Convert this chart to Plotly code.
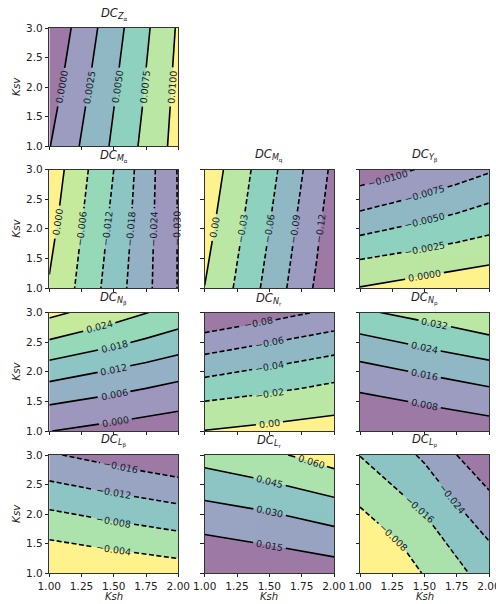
import math
import plotly.graph_objects as go

# Sensitivity grids: rows follow KSV, columns follow KSH
KSH = [1.00, 1.25, 1.50, 1.75, 2.00]
KSV = [1.0, 1.5, 2.0, 2.5, 3.0]
X_TICKS = [1.00, 1.25, 1.50, 1.75, 2.00]
Y_TICKS = [1.0, 1.5, 2.0, 2.5, 3.0]

DC_Z_ALPHA = [
    [-0.0001, 0.0027, 0.0054, 0.0082, 0.0109],
    [-0.0006, 0.0023, 0.0051, 0.0079, 0.0108],
    [-0.0011, 0.00185, 0.0047, 0.00765, 0.0106],
    [-0.0016, 0.0014, 0.0044, 0.0074, 0.0105],
    [-0.0021, 0.0010, 0.0040, 0.0071, 0.0103],
]
DC_M_ALPHA = [
    [-0.0005, -0.0075, -0.0150, -0.0225, -0.0303],
    [0.0006, -0.0068, -0.0143, -0.0223, -0.0303],
    [0.0017, -0.0060, -0.0135, -0.0220, -0.0303],
    [0.0028, -0.0052, -0.0128, -0.0217, -0.0303],
    [0.0038, -0.0044, -0.0120, -0.0214, -0.0304],
]
DC_M_Q = [
    [-0.0005, -0.034, -0.070, -0.107, -0.145],
    [0.005, -0.029, -0.065, -0.102, -0.140],
    [0.010, -0.024, -0.060, -0.098, -0.136],
    [0.015, -0.019, -0.055, -0.093, -0.131],
    [0.020, -0.0145, -0.050, -0.088, -0.127],
]
DC_Y_BETA = [
    [0.0001, 0.0006, 0.0011, 0.0016, 0.0021],
    [-0.0026, -0.0021, -0.0016, -0.0011, -0.0006],
    [-0.0057, -0.0050, -0.0043, -0.0037, -0.0030],
    [-0.0087, -0.0079, -0.0070, -0.0062, -0.0053],
    [-0.0116, -0.0107, -0.0097, -0.0088, -0.0078],
]
DC_N_BETA = [
    [0.0001, -0.0010, -0.0019, -0.0029, -0.0038],
    [0.0068, 0.0056, 0.0044, 0.0031, 0.0019],
    [0.0146, 0.0130, 0.0113, 0.0097, 0.0080],
    [0.0233, 0.0212, 0.0192, 0.0171, 0.0150],
    [0.0315, 0.0291, 0.0267, 0.0242, 0.0218],
]
DC_N_R = [
    [0.0005, 0.0027, 0.0049, 0.0070, 0.0092],
    [-0.0199, -0.0170, -0.0140, -0.0111, -0.0081],
    [-0.0447, -0.0402, -0.0358, -0.0313, -0.0268],
    [-0.0708, -0.0657, -0.0606, -0.0554, -0.0503],
    [-0.0994, -0.0936, -0.0877, -0.0819, -0.0760],
]
DC_N_P = [
    [0.0002, 0.0013, 0.0021, 0.0030, 0.0040],
    [0.0058, 0.0073, 0.0088, 0.0103, 0.0119],
    [0.0132, 0.0150, 0.0167, 0.0185, 0.0202],
    [0.0214, 0.0235, 0.0257, 0.0278, 0.0299],
    [0.0308, 0.0327, 0.0347, 0.0366, 0.0385],
]
DC_L_BETA = [
    [0.0004, -0.0002, -0.0008, -0.0013, -0.0019],
    [-0.0035, -0.0042, -0.0049, -0.0055, -0.0062],
    [-0.0074, -0.0082, -0.0090, -0.0097, -0.0105],
    [-0.0115, -0.0124, -0.0132, -0.0141, -0.0149],
    [-0.0156, -0.0166, -0.0175, -0.0185, -0.0194],
]
DC_L_R = [
    [-0.0020, 0.0002, 0.0026, 0.0049, 0.0072],
    [0.0111, 0.0133, 0.0158, 0.0186, 0.0215],
    [0.0239, 0.0262, 0.0289, 0.0324, 0.0362],
    [0.0372, 0.0401, 0.0435, 0.0475, 0.0517],
    [0.0509, 0.0540, 0.0575, 0.0618, 0.0672],
]
DC_L_P = [
    [0.0025, -0.0030, -0.0085, -0.0140, -0.0195],
    [-0.0022, -0.0067, -0.0118, -0.0180, -0.0236],
    [-0.0069, -0.0115, -0.0160, -0.0224, -0.0282],
    [-0.0116, -0.0161, -0.0207, -0.0271, -0.0329],
    [-0.0162, -0.0203, -0.0253, -0.0320, -0.0382],
]

# (symbol, subscript, grid, row, col, first level, last level, step, decimals)
PANELS = [
    ("Z", "α", DC_Z_ALPHA, 0, 0, 0.0, 0.0100, 0.0025, 4),
    ("M", "α", DC_M_ALPHA, 1, 0, -0.030, 0.0, 0.006, 3),
    ("M", "q", DC_M_Q, 1, 1, -0.12, 0.0, 0.03, 2),
    ("Y", "β", DC_Y_BETA, 1, 2, -0.0100, 0.0, 0.0025, 4),
    ("N", "β", DC_N_BETA, 2, 0, 0.0, 0.030, 0.006, 3),
    ("N", "r", DC_N_R, 2, 1, -0.08, 0.0, 0.02, 2),
    ("N", "p", DC_N_P, 2, 2, 0.008, 0.040, 0.008, 3),
    ("L", "β", DC_L_BETA, 3, 0, -0.016, -0.004, 0.004, 3),
    ("L", "r", DC_L_R, 3, 1, 0.015, 0.060, 0.015, 3),
    ("L", "p", DC_L_P, 3, 2, -0.032, -0.008, 0.008, 3),
]

W, H = 496, 604
COL_PX = [(49.3, 178.3), (204.7, 334.0), (360.0, 489.0)]
ROW_PX = [(28.0, 146.0), (169.5, 288.0), (312.5, 431.0), (455.0, 573.0)]
FONT = "DejaVu Sans"
INK = "#222222"
LABEL_SIZE = 9.5
CHAR_EM = {".": 0.318, "−": 0.838}


def px_x(p):
    return p / W


def px_y(p):
    return 1 - p / H


def level_crossings(grid, level):
    """Points where the piecewise-linear grid field meets `level` on cell edges."""
    pts = []
    nx, ny = len(KSH), len(KSV)

    def diff(j, i):
        d = grid[j][i] - level
        return d if d != 0 else 1e-15

    for j in range(ny):
        for i in range(nx - 1):
            a, b = diff(j, i), diff(j, i + 1)
            if a * b < 0:
                t = a / (a - b)
                pts.append((KSH[i] + t * (KSH[i + 1] - KSH[i]), KSV[j]))
    for i in range(nx):
        for j in range(ny - 1):
            a, b = diff(j, i), diff(j + 1, i)
            if a * b < 0:
                t = a / (a - b)
                pts.append((KSH[i], KSV[j] + t * (KSV[j + 1] - KSV[j])))
    return pts


def label_width(text):
    return LABEL_SIZE * sum(CHAR_EM.get(ch, 0.636) for ch in text)


fig = go.Figure()
layout = dict(
    width=W, height=H,
    margin=dict(l=0, r=0, t=0, b=0, autoexpand=False),
    paper_bgcolor="white", plot_bgcolor="white",
    showlegend=False,
    font=dict(family=FONT, size=10, color=INK),
)
annotations = []

for n, (sym, sub, grid, r, c, lo, hi, step, dec) in enumerate(PANELS, start=1):
    xa, ya = ("x", "y") if n == 1 else (f"x{n}", f"y{n}")
    xkey, ykey = ("xaxis", "yaxis") if n == 1 else (f"xaxis{n}", f"yaxis{n}")
    x0, x1 = COL_PX[c]
    y0, y1 = ROW_PX[r]

    def to_px(p):
        return (x0 + (p[0] - 1.0) * (x1 - x0), y1 - (p[1] - 1.0) / 2.0 * (y1 - y0))

    # filled bands
    fig.add_trace(go.Contour(
        x=KSH, y=KSV, z=grid, xaxis=xa, yaxis=ya,
        autocontour=False,
        contours=dict(start=lo, end=hi, size=step, coloring="fill", showlines=False),
        colorscale="Viridis", showscale=False, opacity=0.52,
        line=dict(width=0, smoothing=0), hoverinfo="skip",
    ))

    # contour lines with inline labels; negative levels dashed
    n_lev = int(round((hi - lo) / step)) + 1
    for k in range(n_lev):
        level = round(lo + k * step, 10)
        if abs(level) < 1e-12:
            level = 0.0
        pts = level_crossings(grid, level)
        if len(pts) < 2:
            continue
        pix = [to_px(p) for p in pts]
        span_x = max(q[0] for q in pix) - min(q[0] for q in pix)
        span_y = max(q[1] for q in pix) - min(q[1] for q in pix)
        axis = 0 if span_x >= span_y else 1
        order = sorted(range(len(pts)), key=lambda m: pix[m][axis])
        path, ppath = [], []
        for m in order:
            if ppath and math.dist(ppath[-1], pix[m]) < 1e-6:
                continue
            path.append(pts[m])
            ppath.append(pix[m])
        seg = [math.dist(ppath[m], ppath[m + 1]) for m in range(len(ppath) - 1)]
        total = sum(seg)

        text = f"{level:.{dec}f}".replace("-", "−")
        lw = label_width(text)
        dash = "5px,2.5px" if level < 0 else "solid"
        line_style = dict(color="black", width=1.6, dash=dash)

        def point_at(s):
            acc = 0.0
            for m, L in enumerate(seg):
                if acc + L >= s or m == len(seg) - 1:
                    t = 0.0 if L == 0 else min(max((s - acc) / L, 0.0), 1.0)
                    p = (path[m][0] + t * (path[m + 1][0] - path[m][0]),
                         path[m][1] + t * (path[m + 1][1] - path[m][1]))
                    return p, m
                acc += L
            return path[-1], len(seg) - 1

        def piece(s_a, s_b):
            pa, ma = point_at(s_a)
            pb, mb = point_at(s_b)
            return [pa] + path[ma + 1:mb + 1] + [pb]

        if max(span_x, span_y) > 1.2 * lw:
            s_mid = total / 2.0
            gap = lw / 2.0 + 3.0
            pm, mm = point_at(s_mid)
            dx = ppath[mm + 1][0] - ppath[mm][0]
            dy = ppath[mm + 1][1] - ppath[mm][1]
            ang = math.degrees(math.atan2(dy, dx))
            if ang > 85:
                ang -= 180
            elif ang <= -95:
                ang += 180
            pieces = [piece(0.0, max(s_mid - gap, 0.0)), piece(min(s_mid + gap, total), total)]
            annotations.append(dict(
                x=pm[0], y=pm[1], xref=xa, yref=ya, text=text, textangle=ang,
                showarrow=False, xanchor="center", yanchor="middle",
                font=dict(family=FONT, size=LABEL_SIZE, color="#15202a"),
            ))
        else:
            pieces = [path]
        for pc in pieces:
            if len(pc) < 2:
                continue
            fig.add_trace(go.Scatter(
                x=[p[0] for p in pc], y=[p[1] for p in pc], xaxis=xa, yaxis=ya,
                mode="lines", line=line_style, hoverinfo="skip",
            ))

    layout[xkey] = dict(
        domain=[px_x(x0), px_x(x1)], anchor=ya, range=[1, 2], automargin=False,
        tickvals=X_TICKS, ticktext=[f"{v:.2f}" for v in X_TICKS],
        showticklabels=(r == 3), ticks="outside", ticklen=3.5, tickwidth=0.8,
        ticklabelstandoff=0, ticklabeloverflow="allow",
        tickcolor=INK, showline=True, mirror=True, linecolor="#333333", linewidth=0.8,
        showgrid=False, zeroline=False, tickfont=dict(size=10.5),
    )
    layout[ykey] = dict(
        domain=[px_y(y1), px_y(y0)], anchor=xa, range=[1, 3], automargin=False,
        tickvals=Y_TICKS, ticktext=[f"{v:.1f}" for v in Y_TICKS],
        showticklabels=(c == 0), ticks="outside", ticklen=3.5, tickwidth=0.8,
        tickcolor=INK, showline=True, mirror=True, linecolor="#333333", linewidth=0.8,
        showgrid=False, zeroline=False, tickfont=dict(size=10.5),
    )

    annotations.append(dict(
        x=px_x((x0 + x1) / 2), y=px_y(y0 - 4), xref="paper", yref="paper",
        xanchor="center", yanchor="bottom", showarrow=False,
        text=f"<i>DC</i><sub><i>{sym}</i><sub>{sub}</sub></sub>",
        font=dict(family=FONT, size=11.5, color=INK),
    ))
    if c == 0:
        annotations.append(dict(
            x=px_x(16), y=px_y((y0 + y1) / 2), xref="paper", yref="paper",
            xanchor="center", yanchor="middle", showarrow=False, textangle=-90,
            text="<i>Ksv</i>", font=dict(family=FONT, size=10.5, color=INK),
        ))
    if r == 3:
        annotations.append(dict(
            x=px_x((x0 + x1) / 2), y=px_y(596), xref="paper", yref="paper",
            xanchor="center", yanchor="middle", showarrow=False,
            text="<i>Ksh</i>", font=dict(family=FONT, size=10, color=INK),
        ))

layout["annotations"] = annotations
fig.update_layout(**layout)
fig.write_html("out.html")
